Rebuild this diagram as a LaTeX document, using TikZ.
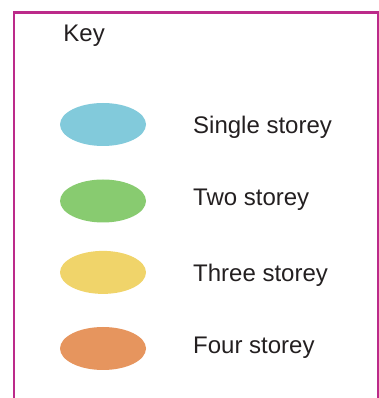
\documentclass[tikz,border=0pt]{standalone}
\usepackage{fontspec}
\setmainfont{Liberation Sans}
\usetikzlibrary{shapes.geometric}

\definecolor{keyframe}{HTML}{BC2A8A}
\definecolor{keyink}{HTML}{231F20}
\definecolor{onestorey}{HTML}{82CADB}
\definecolor{twostorey}{HTML}{88CB70}
\definecolor{threestorey}{HTML}{F0D46A}
\definecolor{fourstorey}{HTML}{E6955E}

\begin{document}
\begin{tikzpicture}[x=1pt,y=1pt,
  swatch/.style={ellipse,draw=none,minimum width=86pt,minimum height=43pt,inner sep=0pt},
  keytext/.style={anchor=base west,inner sep=0pt,text=keyink,font=\fontsize{24}{28}\selectfont}]
\useasboundingbox (0,0) rectangle (379,398);

%% frame
\coordinate (fbl) at (14.3,0);
\coordinate (ftl) at (14.3,385.5);
\coordinate (ftr) at (377.6,385.5);
\coordinate (fbr) at (377.6,0);
\draw[keyframe,line width=2.2pt] (fbl) -- (ftl) -- (ftr) -- (fbr);

%% title
\node[keytext] (key) at (63.2,356.3) {Key};

%% swatches
\node[swatch,fill=onestorey] (single) at (103,273.5) {};
\node[swatch,fill=twostorey] (two) at (103,197) {};
\node[swatch,fill=threestorey] (three) at (103,125.6) {};
\node[swatch,fill=fourstorey] (four) at (103,49.5) {};

%%% labels
\node[keytext] (singlelbl) at (193,264.7) {Single storey};
\node[keytext] (twolbl) at (193,192) {Two storey};
\node[keytext] (threelbl) at (193,116.3) {Three storey};
\node[keytext] (fourlbl) at (193,44.7) {Four storey};

\end{tikzpicture}
\end{document}
